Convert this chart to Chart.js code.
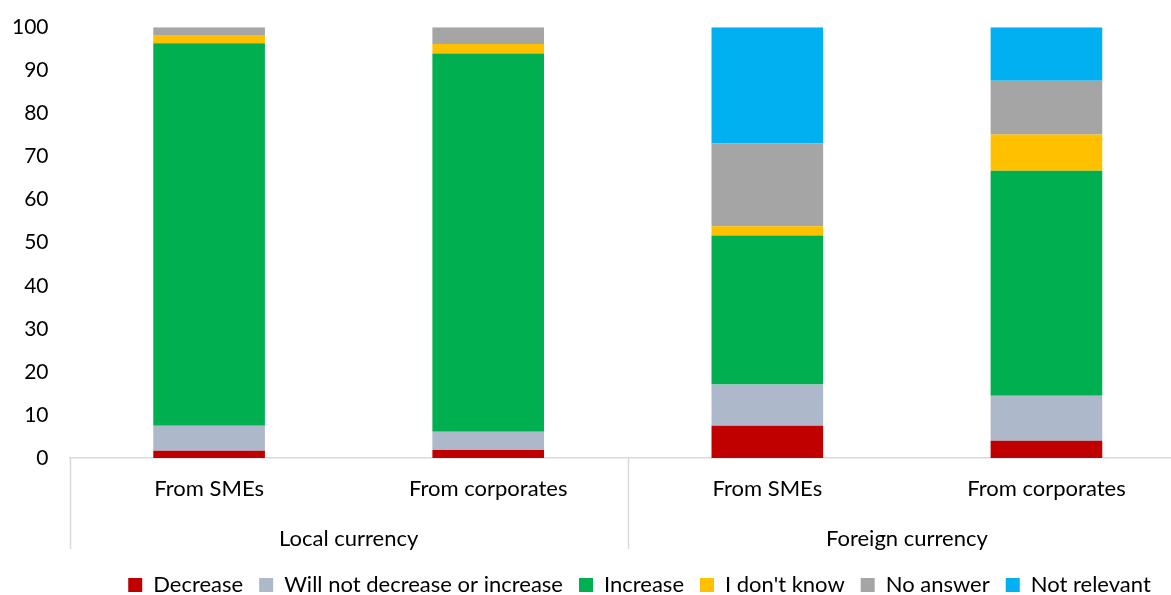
<!DOCTYPE html>
<html lang="en">
<head>
    <meta charset="UTF-8">
    <title>Stacked bars</title>
    <script src="https://cdn.jsdelivr.net/npm/chart.js@4.4.1/dist/chart.umd.min.js"></script>
    <style>
        html, body { margin: 0; padding: 0; background: #fff; overflow: hidden; }
        #wrap { width: 1186px; height: 595px; }
    </style>
</head>
<body>
<div id="wrap">
    <canvas id="barChart"></canvas>
</div>
<script>
    const categories = ['From SMEs', 'From corporates', 'From SMEs', 'From corporates'];
    const groups = ['Local currency', 'Foreign currency'];
    const yTicks = [0, 10, 20, 30, 40, 50, 60, 70, 80, 90, 100];

    const decrease = [1.7, 1.9, 7.5, 4.0];
    const noChange = [5.8, 4.2, 9.6, 10.5];
    const increase = [88.8, 87.8, 34.6, 52.2];
    const dontKnow = [1.9, 2.2, 2.1, 8.4];
    const noAnswer = [1.8, 3.9, 19.3, 12.5];
    const notRelevant = [0, 0, 26.9, 12.4];

    const FONT = 'Lato';
    const FONT_SIZE = 22;
    const LINE_GREY = '#d9d9d9';

    // vertical separators of the two-level category axis
    const groupLines = {
        id: 'groupLines',
        afterDraw(chart) {
            let x = chart.scales.x, x2 = chart.scales.x2, ctx = chart.ctx;
            let mid = (x.getPixelForTick(1) + x.getPixelForTick(2)) / 2;
            let top = chart.chartArea.bottom, bottom = x2.bottom - 9;
            ctx.save();
            ctx.strokeStyle = LINE_GREY;
            ctx.lineWidth = 1.5;
            [chart.chartArea.left, mid, chart.chartArea.right].forEach(function (px) {
                ctx.beginPath();
                ctx.moveTo(Math.round(px) + 0.5, top);
                ctx.lineTo(Math.round(px) + 0.5, bottom);
                ctx.stroke();
            });
            ctx.restore();
        }
    };

    // legend sits a bit right of the canvas centre in the original
    const legendShift = {
        id: 'legendShift',
        afterLayout(chart) {
            chart.legend.left += 51;
            chart.legend.right += 51;
        }
    };

    let ctx = document.getElementById('barChart').getContext('2d');
    new Chart(ctx, {
        type: 'bar',
        data: {
            labels: categories,
            datasets: [
                {label: 'Decrease', data: decrease, backgroundColor: '#C00000'},
                {label: 'Will not decrease or increase', data: noChange, backgroundColor: '#ADB9CA'},
                {label: 'Increase', data: increase, backgroundColor: '#00B050'},
                {label: "I don't know", data: dontKnow, backgroundColor: '#FFC000'},
                {label: 'No answer', data: noAnswer, backgroundColor: '#A5A5A5'},
                {label: 'Not relevant', data: notRelevant, backgroundColor: '#00B0F0'}
            ]
        },
        options: {
            responsive: true,
            maintainAspectRatio: false,
            animation: false,
            datasets: {bar: {barPercentage: 0.4, categoryPercentage: 1}},
            layout: {padding: {top: 4, left: -9, right: 0, bottom: -11}},
            scales: {
                x: {
                    stacked: true,
                    grid: {display: false, drawTicks: false},
                    border: {color: LINE_GREY, width: 1.5},
                    ticks: {font: {family: FONT, size: FONT_SIZE, lineHeight: 1.0}, color: '#000', padding: 20, maxRotation: 0}
                },
                x2: {
                    type: 'category',
                    labels: groups,
                    position: 'bottom',
                    offset: true,
                    grid: {display: false, drawTicks: false},
                    border: {display: false},
                    ticks: {font: {family: FONT, size: FONT_SIZE, lineHeight: 1.45}, color: '#000', padding: 3, maxRotation: 0}
                },
                y: {
                    stacked: true,
                    min: 0,
                    max: 100,
                    grid: {display: false, drawTicks: false},
                    border: {display: false},
                    afterBuildTicks: function (axis) {
                        axis.ticks = yTicks.map(function (v) { return {value: v}; });
                    },
                    ticks: {font: {family: FONT, size: 21, lineHeight: 0.6}, color: '#000', padding: 21}
                }
            },
            plugins: {
                tooltip: {enabled: false},
                legend: {
                    position: 'bottom',
                    labels: {
                        font: {family: FONT, size: FONT_SIZE},
                        color: '#000',
                        boxWidth: 14,
                        boxHeight: 14,
                        padding: 16
                    }
                }
            }
        },
        plugins: [groupLines, legendShift]
    });
</script>
</body>
</html>
